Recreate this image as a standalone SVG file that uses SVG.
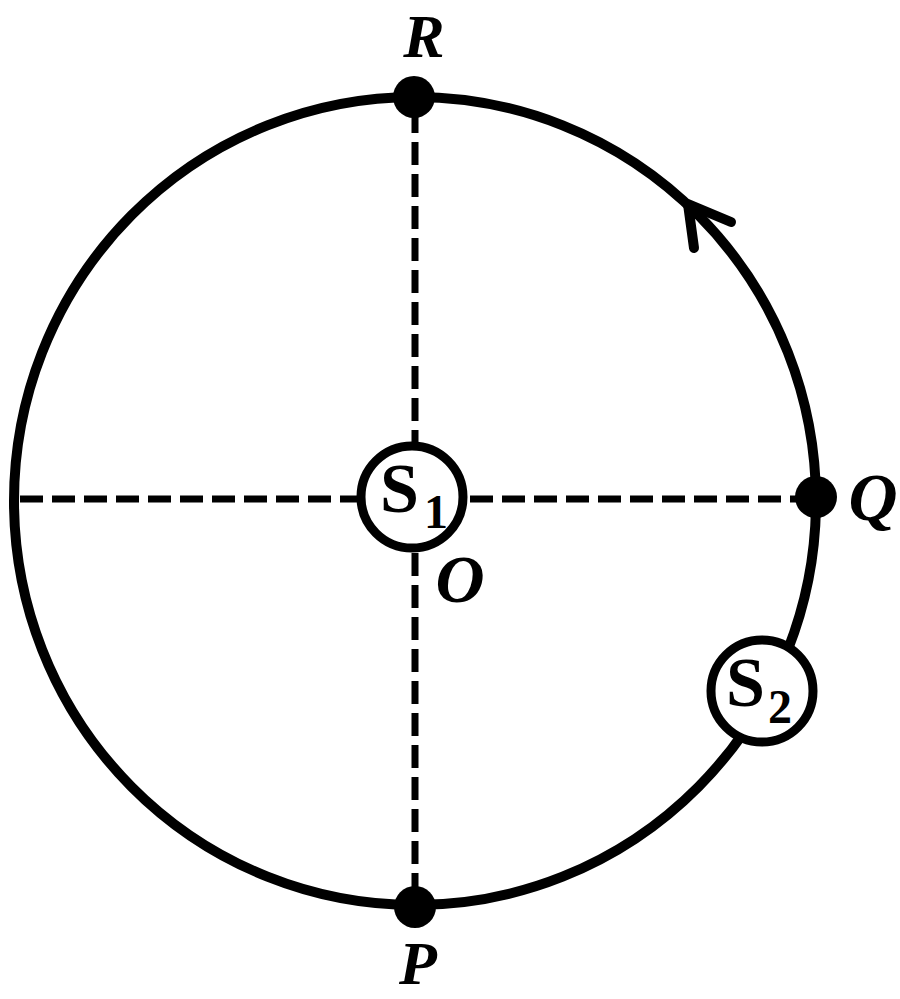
<svg xmlns="http://www.w3.org/2000/svg" width="900" height="999" viewBox="0 0 900 999">
<style>
.dash{stroke:#000;stroke-width:7;stroke-dasharray:23 9;fill:none}
.main{stroke:#000;stroke-width:10;fill:none}
.node{stroke:#000;stroke-width:9;fill:#fff}
.lbl{font-family:"Liberation Serif",serif;font-weight:bold;font-style:italic;font-size:68px;fill:#000}
.edge{font-size:62px}
.s{font-family:"Liberation Serif",serif;font-weight:bold;font-size:70px;fill:#000}
.sub{font-family:"Liberation Serif",serif;font-weight:bold;font-size:48px;fill:#000}
.dot{fill:#000}
</style>
<rect width="900" height="999" fill="#fff"/>
<g id="connectors">
<ellipse class="main" cx="415" cy="501" rx="401" ry="404"/>
<line class="dash" x1="20" y1="499" x2="358" y2="499"/>
<line class="dash" x1="470" y1="499" x2="808" y2="499"/>
<line class="dash" x1="415" y1="110" x2="415" y2="442"/>
<line class="dash" x1="415" y1="553" x2="415" y2="900"/>
<polyline fill="none" stroke="#000" stroke-width="10" stroke-linecap="round" stroke-linejoin="round" points="731,222 688,204 694,248"/>
</g>
<g id="R"><circle class="dot" cx="414" cy="97" r="21"/><text class="lbl edge" x="424" y="57" text-anchor="middle">R</text></g>
<g id="P"><circle class="dot" cx="415" cy="907" r="21"/><text class="lbl edge" x="418" y="984" text-anchor="middle">P</text></g>
<g id="Q"><circle class="dot" cx="816" cy="497" r="21"/><text class="lbl" x="873" y="520" text-anchor="middle">Q</text></g>
<g id="O"><text class="lbl" x="460" y="602" text-anchor="middle">O</text></g>
<g id="S1"><circle class="node" cx="412" cy="497" r="51"/><text class="s" x="380" y="512">S</text><text class="sub" x="424" y="528">1</text></g>
<g id="S2"><circle class="node" cx="762" cy="691" r="51"/><text class="s" x="726" y="706">S</text><text class="sub" x="768" y="723">2</text></g>
</svg>
